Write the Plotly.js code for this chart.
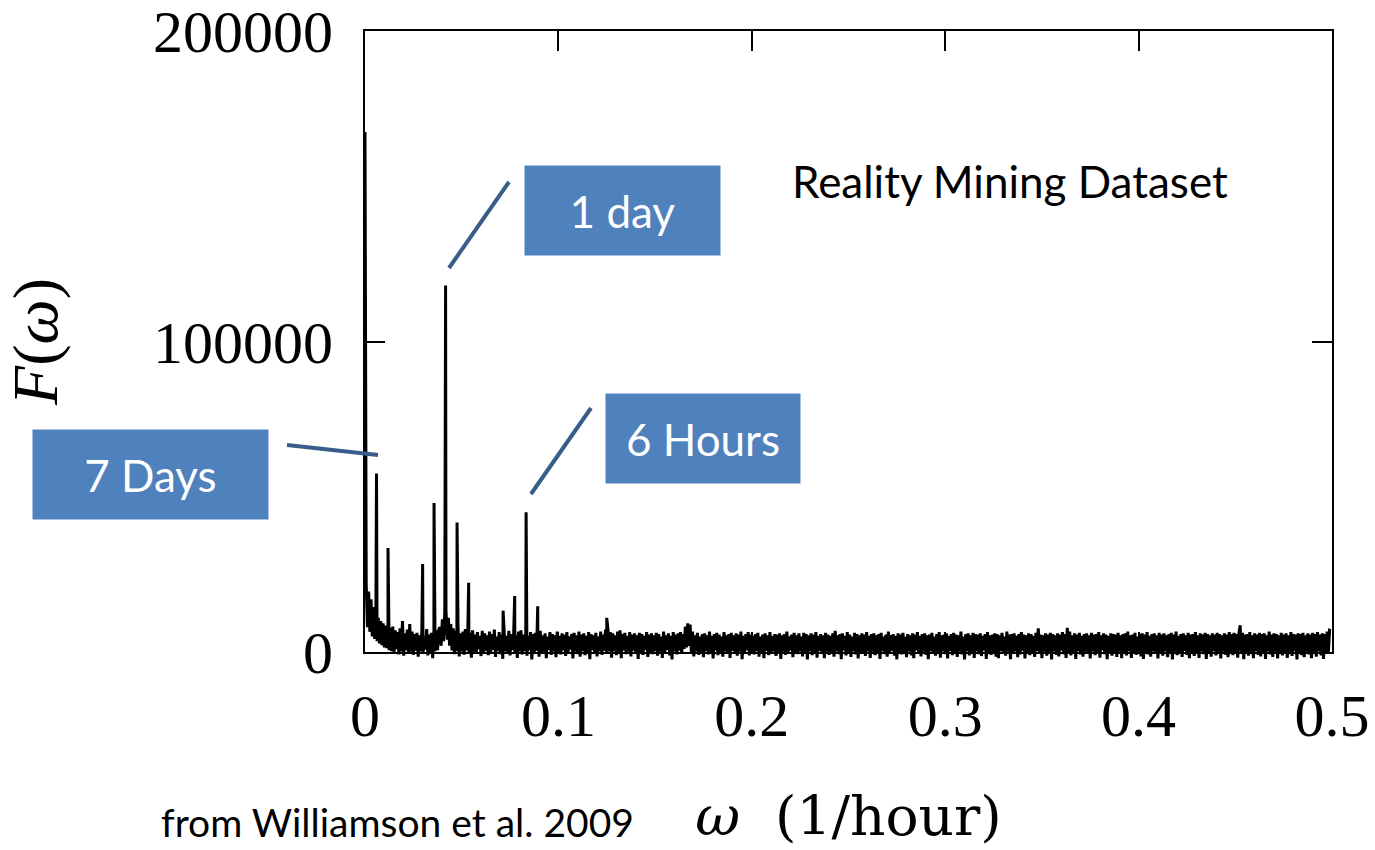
<!DOCTYPE html>
<html>
<head>
<meta charset="utf-8">
<script src="https://cdn.plot.ly/plotly-3.0.1.min.js"></script>
<style>html,body{margin:0;padding:0;background:#fff;}#chart{width:1375px;height:850px;}</style>
</head>
<body>
<div id="chart"></div>
<script>
// Frequency step of the background spectrum (1/hour)
const dOmega = 0.000625;
// Background spectrum F(omega), one value per step
const F_background = [
167500,22000,8000,19500,6500,17000,5000,14500,4200,12500,3500,11000,2800,10000,2200,9200,1500,8500,1200,8000,
600,7800,300,8200,-500,7000,900,6400,-800,7600,200,10000,-1200,6000,500,7200,-400,9000,100,6600,
-900,5800,400,6200,-1500,5400,200,6600,-600,5000,800,7400,-1100,5600,0,6200,-2000,6800,300,7000,
600,7200,8000,2000,10500,3500,13000,13500,4000,11000,2000,9000,500,7600,-700,6800,300,7200,-1400,6000,
200,6600,-900,7400,500,5800,-300,6200,-1800,7000,100,5600,-600,6400,900,5200,-1300,6800,0,6000,
400,5400,-1000,6600,-200,5800,700,7200,-1600,5000,300,6400,-700,5600,-2200,6000,200,5200,-500,6800,
-1100,5800,600,6200,-400,5400,-1900,6600,200,7000,-800,5600,300,6000,-1200,5200,500,6400,-2400,5800,
-300,6200,400,5600,-1500,6800,-600,5400,100,6000,-2000,5000,700,6400,-900,5800,200,5400,-1700,6600,
0,5200,-800,6000,500,5600,-1300,6400,-300,5000,800,5800,-2100,6200,100,5400,-700,6600,-1500,5600,
300,6000,-1000,5200,-200,6400,-2300,5800,600,5400,-500,6200,-1400,5000,200,6600,-900,5600,400,7200,
-600,7400,200,6400,-1800,6000,300,5400,-1000,6600,-200,7000,-2000,5800,500,6200,-700,5200,100,6400,
-1400,5600,400,6000,-500,5400,-2200,6200,0,5800,-900,5200,600,6400,-1600,5600,-100,6000,-700,5400,
300,6200,-1200,5800,100,5000,-1900,6600,-400,5400,700,6000,-1100,5200,-2400,6400,200,5600,-800,6000,
400,6400,-600,5800,1000,8200,1500,9200,2000,8800,-300,6600,-1400,5400,200,6200,-900,5000,-200,5800,
-1700,6000,300,5400,-800,6600,-100,5200,-2100,5800,500,6200,-1000,5600,0,5000,-1500,6400,200,5400,
-600,5800,-1900,6200,400,5400,-300,6000,-1200,5600,100,6600,-2300,5200,-500,5800,600,6400,-1100,5600,
0,5200,-800,5800,300,6200,-1500,5000,-200,5600,-2000,6000,400,5400,-1000,6400,-300,5200,200,5800,
-1300,5600,-600,6000,-2200,5400,100,5800,-900,6600,-400,5000,500,5600,-1700,6200,0,5400,-700,6000,
200,5000,-1400,6200,-300,5800,-2400,5400,300,6000,-1000,5600,-100,6400,-1800,5200,400,5800,-600,5400,
-2000,6200,100,5600,-900,5200,-300,6000,-1500,6800,200,5400,-700,5800,-2300,6000,500,5200,-1100,6400,
-200,5600,-1600,5000,300,6200,-800,5800,-2100,5400,0,6000,-500,5600,-1300,6400,200,5200,-1900,5800,
100,6000,-1000,5400,-400,5800,-2200,6200,300,5000,-700,5600,-1500,6600,-100,5400,400,5800,-1200,5200,
-2400,6000,0,5600,-800,6200,-300,5000,-1700,5800,200,5400,-1100,6000,-2000,5600,500,6400,-600,5200,
-1400,5800,100,6000,-900,5400,-2300,5600,300,6200,-500,5000,-1200,5800,0,6400,-1800,5400,200,5600,
-700,6000,-2100,5200,400,5800,-1000,6200,-200,5600,-1600,5400,100,6600,-800,5000,-2400,5800,300,6000,
-1100,5400,-400,6200,-1900,5800,200,5600,-700,6000,-1300,5200,500,5800,-2200,6400,-100,5400,-900,5600,
0,6000,-1500,5800,-2000,5400,300,6200,-600,5000,-1200,6600,100,5600,-2300,5800,-400,6000,200,5200,
-1700,5800,-800,6400,400,5600,-2100,5400,-300,6000,-1000,5800,0,5200,-1600,6200,300,7600,-500,5600,
-2000,5400,100,6000,-1200,5600,-500,6200,-2400,5800,200,5400,-900,6000,-1400,5600,400,6400,-700,5800,
-1900,7800,0,6600,-1100,5400,-300,6000,-2200,5600,300,6200,-800,5200,-1500,5800,100,6000,-600,5400,
-2100,6200,200,5600,-1000,5800,-400,6400,-1800,5400,500,6000,-700,5600,-2300,5200,0,6000,-1200,5800,
-300,5600,-1600,6200,100,5400,-2000,5800,-600,6000,-1100,6600,300,5400,-1900,5600,-200,6200,-900,5000,
400,5800,-1400,6000,-2200,5600,0,6400,-800,5200,-1500,5800,200,6000,-500,5400,-2100,6200,-300,5600,
-1200,6000,300,5400,-1700,5800,-600,6200,-2400,5600,100,6600,-1000,5200,-200,5800,-1600,6000,400,5400,
-900,6200,-2000,5600,0,5800,-1300,6400,-400,5400,-1900,6000,200,5600,-700,6200,-2200,5800,-100,5400,
-1500,6000,300,5600,-1100,6200,-600,5800,-2100,5400,100,6000,-900,5600,-1700,6400,-200,5800,-1000,6200,
-300,5800,-1800,6000,8600,-500,6200,-2300,5600,0,5800,-1200,6400,-600,5400,-2000,6000,300,5600,-900,
6200,-1400,5800,-300,6000,-2200,5400,200,6600,-800,5600,-1600,6000,100,5800,-2100,5400,-500,6200,-1100,
5600,0,6000,-1900,5400,-700,6400,-1300,5800,300,5600,-2400,6000,-200,5800,-1000,6200,-1700,5400,100,
6000,-800,5600,-2000,6200,-400,5800,-1500,6400,200,5600,-1100,6000,-2200,5800,-600,6600,-300,7000,6800
];
// Sharp periodic peaks (1/hour) and their heights
const peakOmega = [0.00595, 0.0119, 0.0298, 0.0357, 0.04167, 0.0476, 0.0536, 0.0714, 0.0774, 0.0833, 0.0893, 0.125];
const peakF     = [57500, 33500, 28300, 48000, 118000, 41700, 22300, 13300, 18000, 45000, 14700, 11000];
// Axis tick values
const xTicks = [0, 0.1, 0.2, 0.3, 0.4, 0.5];
const yTicks = [0, 100000, 200000];

// Build one spectrum: background grid plus inserted peaks, sorted by frequency
const pts = F_background.map((v, i) => [i * dOmega, v]);
peakOmega.forEach((w, k) => pts.push([w, peakF[k]]));
pts.sort((a, b) => a[0] - b[0]);
const omega = pts.map(p => p[0]);
const F = pts.map(p => p[1]);

const plotLeft = 365, plotRight = 1332, plotTop = 31, zeroPx = 652, dataBottom = 662;
const W = plotRight - plotLeft, H = dataBottom - plotTop;
const px = x => (x - plotLeft) / W;
const py = y => (dataBottom - y) / H;

const serif = 'Liberation Serif, Times New Roman, serif';
const serifWide = 'DejaVu Serif, serif';
const sans = 'Lato, Open Sans, sans-serif';
const boxBlue = '#4F81BD';
const lineBlue = '#385D8A';
const NB = '\u00A0';

const data = [
  // empty trace so the framed x/y subplot (axes box) is created
  {type: 'scatter', mode: 'lines', x: [], y: [], xaxis: 'x', yaxis: 'y', hoverinfo: 'skip', showlegend: false},
  {type: 'scatter', mode: 'lines', x: omega, y: F, xaxis: 'x', yaxis: 'y2',
   line: {color: '#000000', width: 3}, hoverinfo: 'skip', showlegend: false}
];

const axisCommon = {
  showline: true, linecolor: '#000', linewidth: 2, mirror: 'ticks',
  ticks: 'inside', ticklen: 20, tickwidth: 2, tickcolor: '#000',
  showgrid: false, zeroline: false, fixedrange: true, ticklabeloverflow: 'allow'
};

const layout = {
  width: 1375, height: 850,
  margin: {l: plotLeft, r: 1375 - plotRight, t: plotTop, b: 850 - dataBottom, pad: 0},
  paper_bgcolor: '#fff', plot_bgcolor: 'rgba(0,0,0,0)',
  showlegend: false,
  xaxis: Object.assign({}, axisCommon, {
    range: [0, 0.5], tickvals: xTicks, ticktext: xTicks.map(String), anchor: 'y',
    tickfont: {family: serif, size: 60, color: '#000'}, ticklabelstandoff: 10,
    title: {text: '<i>ω</i>' + NB + NB + '(1/hour)' + NB + NB + NB, font: {family: serifWide, size: 55, color: '#000'}, standoff: 48}
  }),
  yaxis: Object.assign({}, axisCommon, {
    range: [0, 200000], domain: [(dataBottom - zeroPx) / H, 1], anchor: 'x',
    tickvals: yTicks, ticktext: yTicks.map(String),
    tickfont: {family: serif, size: 60, color: '#000'}, ticklabelstandoff: 18,
    title: {text: '<i>F</i>(<i>ω</i>)', font: {family: serif, size: 64, color: '#000'}, standoff: 80}
  }),
  yaxis2: {
    domain: [0, 1], anchor: 'x', visible: false, fixedrange: true,
    range: [-(dataBottom - zeroPx) * 200000 / (zeroPx - plotTop), 200000]
  },
  shapes: [
    {type: 'line', xref: 'paper', yref: 'paper', x0: px(449), y0: py(268), x1: px(509), y1: py(182), line: {color: lineBlue, width: 4}},
    {type: 'line', xref: 'paper', yref: 'paper', x0: px(531), y0: py(494), x1: px(591), y1: py(408), line: {color: lineBlue, width: 4}},
    {type: 'line', xref: 'paper', yref: 'paper', x0: px(287), y0: py(445), x1: px(378), y1: py(455), line: {color: lineBlue, width: 4}}
  ],
  annotations: [
    {text: '1 day', xref: 'paper', yref: 'paper', x: px(622.5), y: py(210.5), xanchor: 'center', yanchor: 'middle',
     showarrow: false, bgcolor: boxBlue, width: 195, height: 89, borderpad: 0, font: {family: sans, size: 44, color: '#fff'}},
    {text: '6 Hours', xref: 'paper', yref: 'paper', x: px(703), y: py(438.5), xanchor: 'center', yanchor: 'middle',
     showarrow: false, bgcolor: boxBlue, width: 194, height: 89, borderpad: 0, font: {family: sans, size: 44, color: '#fff'}},
    {text: '7 Days', xref: 'paper', yref: 'paper', x: px(150.5), y: py(474.5), xanchor: 'center', yanchor: 'middle',
     showarrow: false, bgcolor: boxBlue, width: 235, height: 89, borderpad: 0, font: {family: sans, size: 44, color: '#fff'}},
    {text: 'Reality Mining Dataset', xref: 'paper', yref: 'paper', x: px(1010), y: py(181), xanchor: 'center', yanchor: 'middle',
     showarrow: false, font: {family: sans, size: 44, color: '#000'}},
    {text: 'from Williamson et al. 2009', xref: 'paper', yref: 'paper', x: px(397), y: py(822), xanchor: 'center', yanchor: 'middle',
     showarrow: false, font: {family: sans, size: 39, color: '#000'}}
  ]
};

Plotly.newPlot('chart', data, layout, {displayModeBar: false, staticPlot: true});
</script>
</body>
</html>
